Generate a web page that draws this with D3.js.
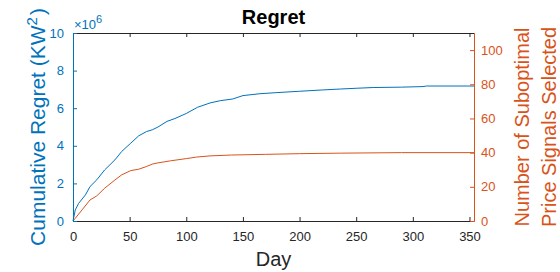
<!DOCTYPE html>
<html>
<head>
<meta charset="utf-8">
<script src="https://cdn.jsdelivr.net/npm/d3@7"></script>
<style>
    body { margin: 0; background: #fff; }
    text { font-family: "Liberation Sans", Arial, sans-serif; }
</style>
</head>
<body>
<script>
(function() {

    const width = 560;
    const height = 272;

    // cumulative regret (blue, left axis)
    const regretDays = [0, 2, 5, 11, 15, 21, 28, 37, 43, 51, 58, 65, 70, 75, 83, 90, 100, 110, 121, 130, 141, 150, 165, 180, 200, 220, 236, 250, 265, 290, 309, 312, 354];
    const regretValues = [0, 0.59e6, 0.94e6, 1.39e6, 1.83e6, 2.19e6, 2.72e6, 3.25e6, 3.7e6, 4.14e6, 4.53e6, 4.76e6, 4.85e6, 5.0e6, 5.3e6, 5.45e6, 5.72e6, 6.05e6, 6.28e6, 6.4e6, 6.49e6, 6.67e6, 6.77e6, 6.83e6, 6.9e6, 6.97e6, 7.02e6, 7.06e6, 7.1e6, 7.12e6, 7.15e6, 7.18e6, 7.18e6];

    // number of suboptimal price signals (orange, right axis)
    const subDays = [0, 2, 8, 15, 21, 28, 37, 43, 51, 58, 65, 70, 75, 86, 100, 109, 121, 140, 170, 200, 236, 290, 354];
    const subCounts = [0, 1.6, 6.5, 12.3, 14.7, 19.2, 24, 27, 29.5, 30.3, 31.9, 33.3, 34, 35.2, 36.5, 37.4, 38.1, 38.6, 39, 39.4, 39.7, 40, 40];

    const xTicks = [0, 50, 100, 150, 200, 250, 300, 350];
    const leftTicks = [0, 2e6, 4e6, 6e6, 8e6, 10e6];
    const rightTicks = [0, 20, 40, 60, 80, 100];

    const blue = "#0072BD";
    const orange = "#D95319";

    const margin = {left: 73, right: 86, top: 33, bottom: 51};
    const x0 = margin.left, x1 = width - margin.right;
    const y0 = height - margin.bottom, y1 = margin.top;

    let x = d3.scaleLinear().domain([0, 354]).range([x0, x1]);
    let yL = d3.scaleLinear().domain([0, 10e6]).range([y0, y1]);
    let yR = d3.scaleLinear().domain([0, 110]).range([y0, y1]);

    let svg = d3.select("body")
        .append("svg")
        .attr("width", width)
        .attr("height", height);

    // lines
    let lineL = d3.line()
        .x(d => x(d[0]))
        .y(d => yL(d[1]));
    let lineR = d3.line()
        .x(d => x(d[0]))
        .y(d => yR(d[1]));

    svg.append("path")
        .datum(regretDays.map((d, i) => [d, regretValues[i]]))
        .attr("d", lineL)
        .attr("fill", "none")
        .attr("stroke", blue)
        .attr("stroke-width", 1);

    svg.append("path")
        .datum(subDays.map((d, i) => [d, subCounts[i]]))
        .attr("d", lineR)
        .attr("fill", "none")
        .attr("stroke", orange)
        .attr("stroke-width", 1);

    // axes (ticks inward, like matlab)
    function styleAxis(g, color) {
        g.select(".domain").attr("stroke", color).attr("stroke-width", 1);
        g.selectAll(".tick line").attr("stroke", color);
        g.selectAll(".tick text")
            .attr("fill", color)
            .style("font-size", "13px")
            .style("font-family", "Liberation Sans, Arial, sans-serif");
    }

    let bottom = svg.append("g")
        .attr("transform", "translate(0," + y0 + ")")
        .call(d3.axisBottom(x).tickValues(xTicks).tickSizeInner(-4).tickSizeOuter(0).tickPadding(11));
    styleAxis(bottom, "#262626");

    let top = svg.append("g")
        .attr("transform", "translate(0," + y1 + ")")
        .call(d3.axisTop(x).tickValues(xTicks).tickSizeInner(-4).tickSizeOuter(0).tickFormat(""));
    styleAxis(top, "#262626");

    let left = svg.append("g")
        .attr("transform", "translate(" + x0 + ",0)")
        .call(d3.axisLeft(yL).tickValues(leftTicks).tickSizeInner(-4).tickSizeOuter(0).tickPadding(9)
            .tickFormat(d => d / 1e6));
    styleAxis(left, blue);

    let right = svg.append("g")
        .attr("transform", "translate(" + x1 + ",0)")
        .call(d3.axisRight(yR).tickValues(rightTicks).tickSizeInner(-4).tickSizeOuter(0).tickPadding(7));
    styleAxis(right, orange);

    // exponent label
    let expo = svg.append("text")
        .attr("x", x0 + 1)
        .attr("y", y1 - 4)
        .attr("fill", blue)
        .style("font-size", "13px");
    expo.append("tspan").text("\u00d710");
    expo.append("tspan").attr("dy", -6).style("font-size", "11px").text("6");

    // title
    svg.append("text")
        .attr("x", (x0 + x1) / 2)
        .attr("y", 24)
        .attr("text-anchor", "middle")
        .attr("fill", "#000")
        .style("font-size", "20px")
        .style("font-weight", "bold")
        .text("Regret");

    // x label
    svg.append("text")
        .attr("x", (x0 + x1) / 2)
        .attr("y", 266)
        .attr("text-anchor", "middle")
        .attr("fill", "#262626")
        .style("font-size", "20px")
        .text("Day");

    // left label
    let yLab = svg.append("text")
        .attr("transform", "translate(44.5," + ((y0 + y1) / 2) + ") rotate(-90)")
        .attr("text-anchor", "middle")
        .attr("fill", blue)
        .style("font-size", "21px");
    yLab.append("tspan").text("Cumulative Regret (KW");
    yLab.append("tspan").attr("dy", -8).style("font-size", "15px").text("2");
    yLab.append("tspan").attr("dy", 8).attr("dx", 2).text(")");

    // right label, two lines
    let rLab = svg.append("text")
        .attr("transform", "translate(529," + ((y0 + y1) / 2) + ") rotate(-90)")
        .attr("text-anchor", "middle")
        .attr("fill", orange)
        .style("font-size", "20px");
    rLab.append("tspan").attr("x", 0).attr("y", 0).text("Number of Suboptimal");
    rLab.append("tspan").attr("x", 0).attr("y", 27).text("Price Signals Selected");

})();
</script>
</body>
</html>
